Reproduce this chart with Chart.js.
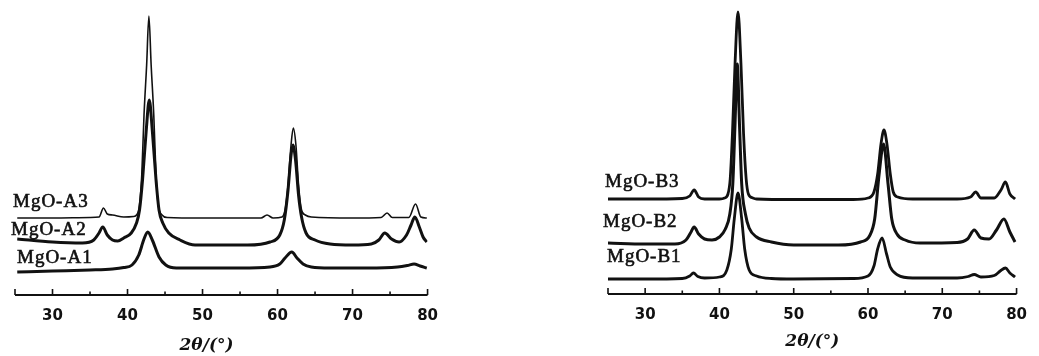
<!DOCTYPE html>
<html>
<head>
<meta charset="utf-8">
<script src="https://cdn.jsdelivr.net/npm/chart.js@4.4.1/dist/chart.umd.min.js"></script>
<style>
  html, body { margin: 0; padding: 0; background: #fff; }
  #wrap { position: relative; width: 1039px; height: 356px; overflow: hidden; }
  .pane { position: absolute; top: 0; height: 356px; }
  #left { left: 0; width: 450px; }
  #right { left: 560px; width: 479px; }
</style>
</head>
<body>
<div id="wrap">
  <div class="pane" id="left"><canvas id="chartA"></canvas></div>
  <div class="pane" id="right"><canvas id="chartB"></canvas></div>
</div>
<script>
// axis ticks (2theta, degrees)
const tickLabels = [30, 40, 50, 60, 70, 80];
const majorTicks = [25, 30, 40, 50, 60, 70, 80];
const minorTicks = [35, 45, 55, 65, 75];

// left panel, intensity above the axis line (arbitrary units)
const a3X = [25.3, 30, 35, 36.2, 36.8, 37.3, 38, 39.5, 40.8, 41.2, 41.6, 41.9, 42.2, 42.55, 42.85, 43.15, 43.5, 43.8, 44.1, 44.6, 45.3, 50, 57.8, 58.6, 59.4, 60.6, 61.0, 61.4, 61.8, 62.1, 62.45, 62.8, 63.2, 63.7, 64.5, 70, 73.8, 74.6, 75.3, 77.5, 78.4, 79.1, 79.9];
const a3Y = [77, 77, 77.5, 78, 87, 81, 80, 78, 78.5, 80, 90, 120, 180, 230, 279, 230, 180, 120, 90, 80, 77.5, 77, 77, 80, 77, 78, 85, 110, 150, 167, 150, 110, 85, 80, 78, 77, 77.5, 82, 77.5, 77.5, 91, 78, 77];

const a2X = [25.3, 30, 34, 35.5, 36.2, 36.7, 37.3, 38, 38.7, 39.5, 40.5, 41.2, 41.6, 42.0, 42.5, 42.9, 43.3, 43.8, 44.2, 44.7, 45.5, 47, 49, 56, 59, 60.3, 60.9, 61.4, 61.8, 62.05, 62.4, 62.8, 63.2, 63.8, 65, 67, 70, 72.5, 73.5, 74.3, 75.2, 76.2, 77.2, 77.8, 78.3, 78.9, 79.4, 79.9];
const a2Y = [56, 53, 52, 55, 62, 68, 60, 55, 54, 57, 62, 72, 85, 115, 165, 195, 165, 115, 85, 72, 62, 55, 50, 50, 53, 60, 75, 105, 140, 150, 135, 100, 78, 62, 55, 51, 50, 51, 55, 62, 56, 53, 60, 70, 78, 68, 58, 53];

const a1X = [25.3, 30, 35, 38, 39.5, 40.6, 41.5, 42.2, 42.7, 43.3, 44.2, 45.1, 46.5, 50, 55, 59, 60.3, 61, 61.9, 62.6, 63.4, 64.5, 67, 72, 76, 77.3, 78.2, 79, 79.9];
const a1Y = [23, 24, 25, 26, 27.5, 30, 40, 56, 63, 55, 38, 30, 27, 27, 27, 28, 31, 37, 43, 37, 31, 28, 27, 27, 28, 29.5, 31, 29, 27];

// right panel
const b3X = [25, 30, 35, 36.0, 36.6, 37.2, 38, 40, 40.7, 41.15, 41.45, 41.75, 42.1, 42.5, 42.9, 43.25, 43.6, 43.9, 44.5, 45, 50, 58, 60, 60.8, 61.3, 61.75, 62.15, 62.55, 63.0, 63.4, 64, 66, 72, 73.8, 74.5, 75.2, 77, 77.9, 78.5, 79.1, 79.8];
const b3Y = [95, 95, 95.5, 98, 104, 97, 95, 95, 96, 100, 115, 160, 230, 282, 230, 160, 115, 100, 96, 95, 94.5, 94.5, 96, 102, 120, 150, 164, 150, 120, 102, 97, 95, 95, 97, 102, 96, 96, 104, 112, 100, 95];

const b2X = [25, 30, 34, 35.5, 36.1, 36.6, 37.2, 38, 39, 40, 40.8, 41.4, 41.8, 42.1, 42.4, 42.7, 43.0, 43.5, 44.0, 45, 47, 50, 56, 59, 60.2, 60.9, 61.5, 62.1, 62.7, 63.2, 63.9, 65, 67, 72, 73.4, 74.3, 75.2, 76.3, 77.3, 78.3, 79.1, 79.8];
const b2Y = [51, 50, 50, 54, 61, 67, 60, 55, 54, 57, 65, 80, 110, 170, 230, 170, 110, 80, 66, 57, 52, 49, 49, 52, 58, 75, 120, 150, 110, 75, 60, 54, 51, 51.5, 55, 64, 56, 55, 64, 75, 62, 52];

const b1X = [25, 30, 35, 36.0, 36.5, 37.1, 38, 40, 41.0, 41.6, 42.0, 42.5, 43.0, 43.4, 44.0, 45, 47, 50, 58, 60, 60.8, 61.3, 61.9, 62.5, 63.0, 64, 66, 72, 73.5, 74.3, 75.2, 77, 77.8, 78.5, 79.1, 79.8];
const b1Y = [15, 15, 15.5, 18, 21, 17.5, 16, 17, 24, 45, 75, 101, 75, 45, 24, 18, 15.5, 15, 15.5, 18, 28, 45, 56, 40, 27, 19, 16, 16, 17.5, 19.5, 17, 18.5, 23, 26, 21, 17];

const namesA = ['MgO-A3', 'MgO-A2', 'MgO-A1'];
const namesB = ['MgO-B3', 'MgO-B2', 'MgO-B1'];

function toPoints(xs, ys) {
  return xs.map((x, i) => ({ x: x, y: ys[i] }));
}

// axis line with upward ticks + sample names
const xrdAxis = {
  id: 'xrdAxis',
  afterDatasetsDraw(chart, args, opts) {
    const ctx = chart.ctx;
    const x = chart.scales.x;
    const y = chart.scales.y;
    const y0 = chart.chartArea.bottom;
    ctx.save();
    ctx.strokeStyle = '#111';
    ctx.lineWidth = 2;
    ctx.beginPath();
    ctx.moveTo(x.getPixelForValue(x.min), y0);
    ctx.lineTo(x.getPixelForValue(x.max), y0);
    ctx.stroke();
    ctx.lineWidth = 1.6;
    ctx.beginPath();
    majorTicks.forEach(v => {
      const px = x.getPixelForValue(v);
      ctx.moveTo(px, y0);
      ctx.lineTo(px, y0 - 6);
    });
    minorTicks.forEach(v => {
      const px = x.getPixelForValue(v);
      ctx.moveTo(px, y0);
      ctx.lineTo(px, y0 - 3.5);
    });
    ctx.stroke();

    ctx.fillStyle = '#111';
    ctx.lineWidth = 0.6;
    ctx.font = '19px "Liberation Serif"';
    ctx.letterSpacing = '1px';
    ctx.textBaseline = 'middle';
    opts.names.forEach((n, i) => {
      const py = y.getPixelForValue(opts.nameY[i]);
      ctx.fillText(n, opts.nameX[i], py);
      ctx.strokeText(n, opts.nameX[i], py);
    });
    ctx.restore();
  }
};

function makeChart(id, sets, widths, yMax, pad, scaleH, titleText, titlePad, names, nameX, nameY) {
  new Chart(document.getElementById(id), {
    type: 'line',
    data: {
      datasets: sets.map((s, i) => ({
        data: toPoints(s[0], s[1]),
        borderColor: '#111',
        borderWidth: widths[i],
        pointRadius: 0,
        fill: false,
        cubicInterpolationMode: 'monotone'
      }))
    },
    options: {
      responsive: true,
      maintainAspectRatio: false,
      animation: false,
      layout: { padding: pad },
      plugins: {
        legend: { display: false },
        tooltip: { enabled: false },
        xrdAxis: { names: names, nameX: nameX, nameY: nameY }
      },
      scales: {
        x: {
          type: 'linear',
          min: 25,
          max: 80,
          afterBuildTicks: s => { s.ticks = tickLabels.map(v => ({ value: v })); },
          afterFit: s => { s.height = scaleH; },
          grid: { display: false, drawTicks: false },
          border: { display: false },
          ticks: {
            padding: 12,
            color: '#111',
            font: { family: 'DejaVu Sans', size: 15, weight: 'bold' }
          },
          title: {
            display: true,
            text: titleText,
            color: '#111',
            padding: titlePad,
            font: { family: 'DejaVu Serif', size: 17, weight: 'bold', style: 'italic' }
          }
        },
        y: { display: false, min: 0, max: yMax }
      }
    },
    plugins: [xrdAxis]
  });
}

makeChart('chartA',
  [[a3X, a3Y], [a2X, a2Y], [a1X, a1Y]],
  [1.6, 3, 3],
  295,
  { left: 15, right: 19, top: 0, bottom: 0 },
  61, '2θ/(°)' + '\u00a0'.repeat(5), { top: 0, bottom: 0 },
  namesA, [13, 11, 17], [93, 65, 37]);

makeChart('chartB',
  [[b3X, b3Y], [b2X, b2Y], [b1X, b1Y]],
  [2.8, 3, 2.8],
  294,
  { left: 48, right: 13, top: 0, bottom: 0 },
  62, '2θ/(°)', { top: 0, bottom: 4 },
  namesB, [45, 43, 47], [112, 72, 37]);
</script>
</body>
</html>
